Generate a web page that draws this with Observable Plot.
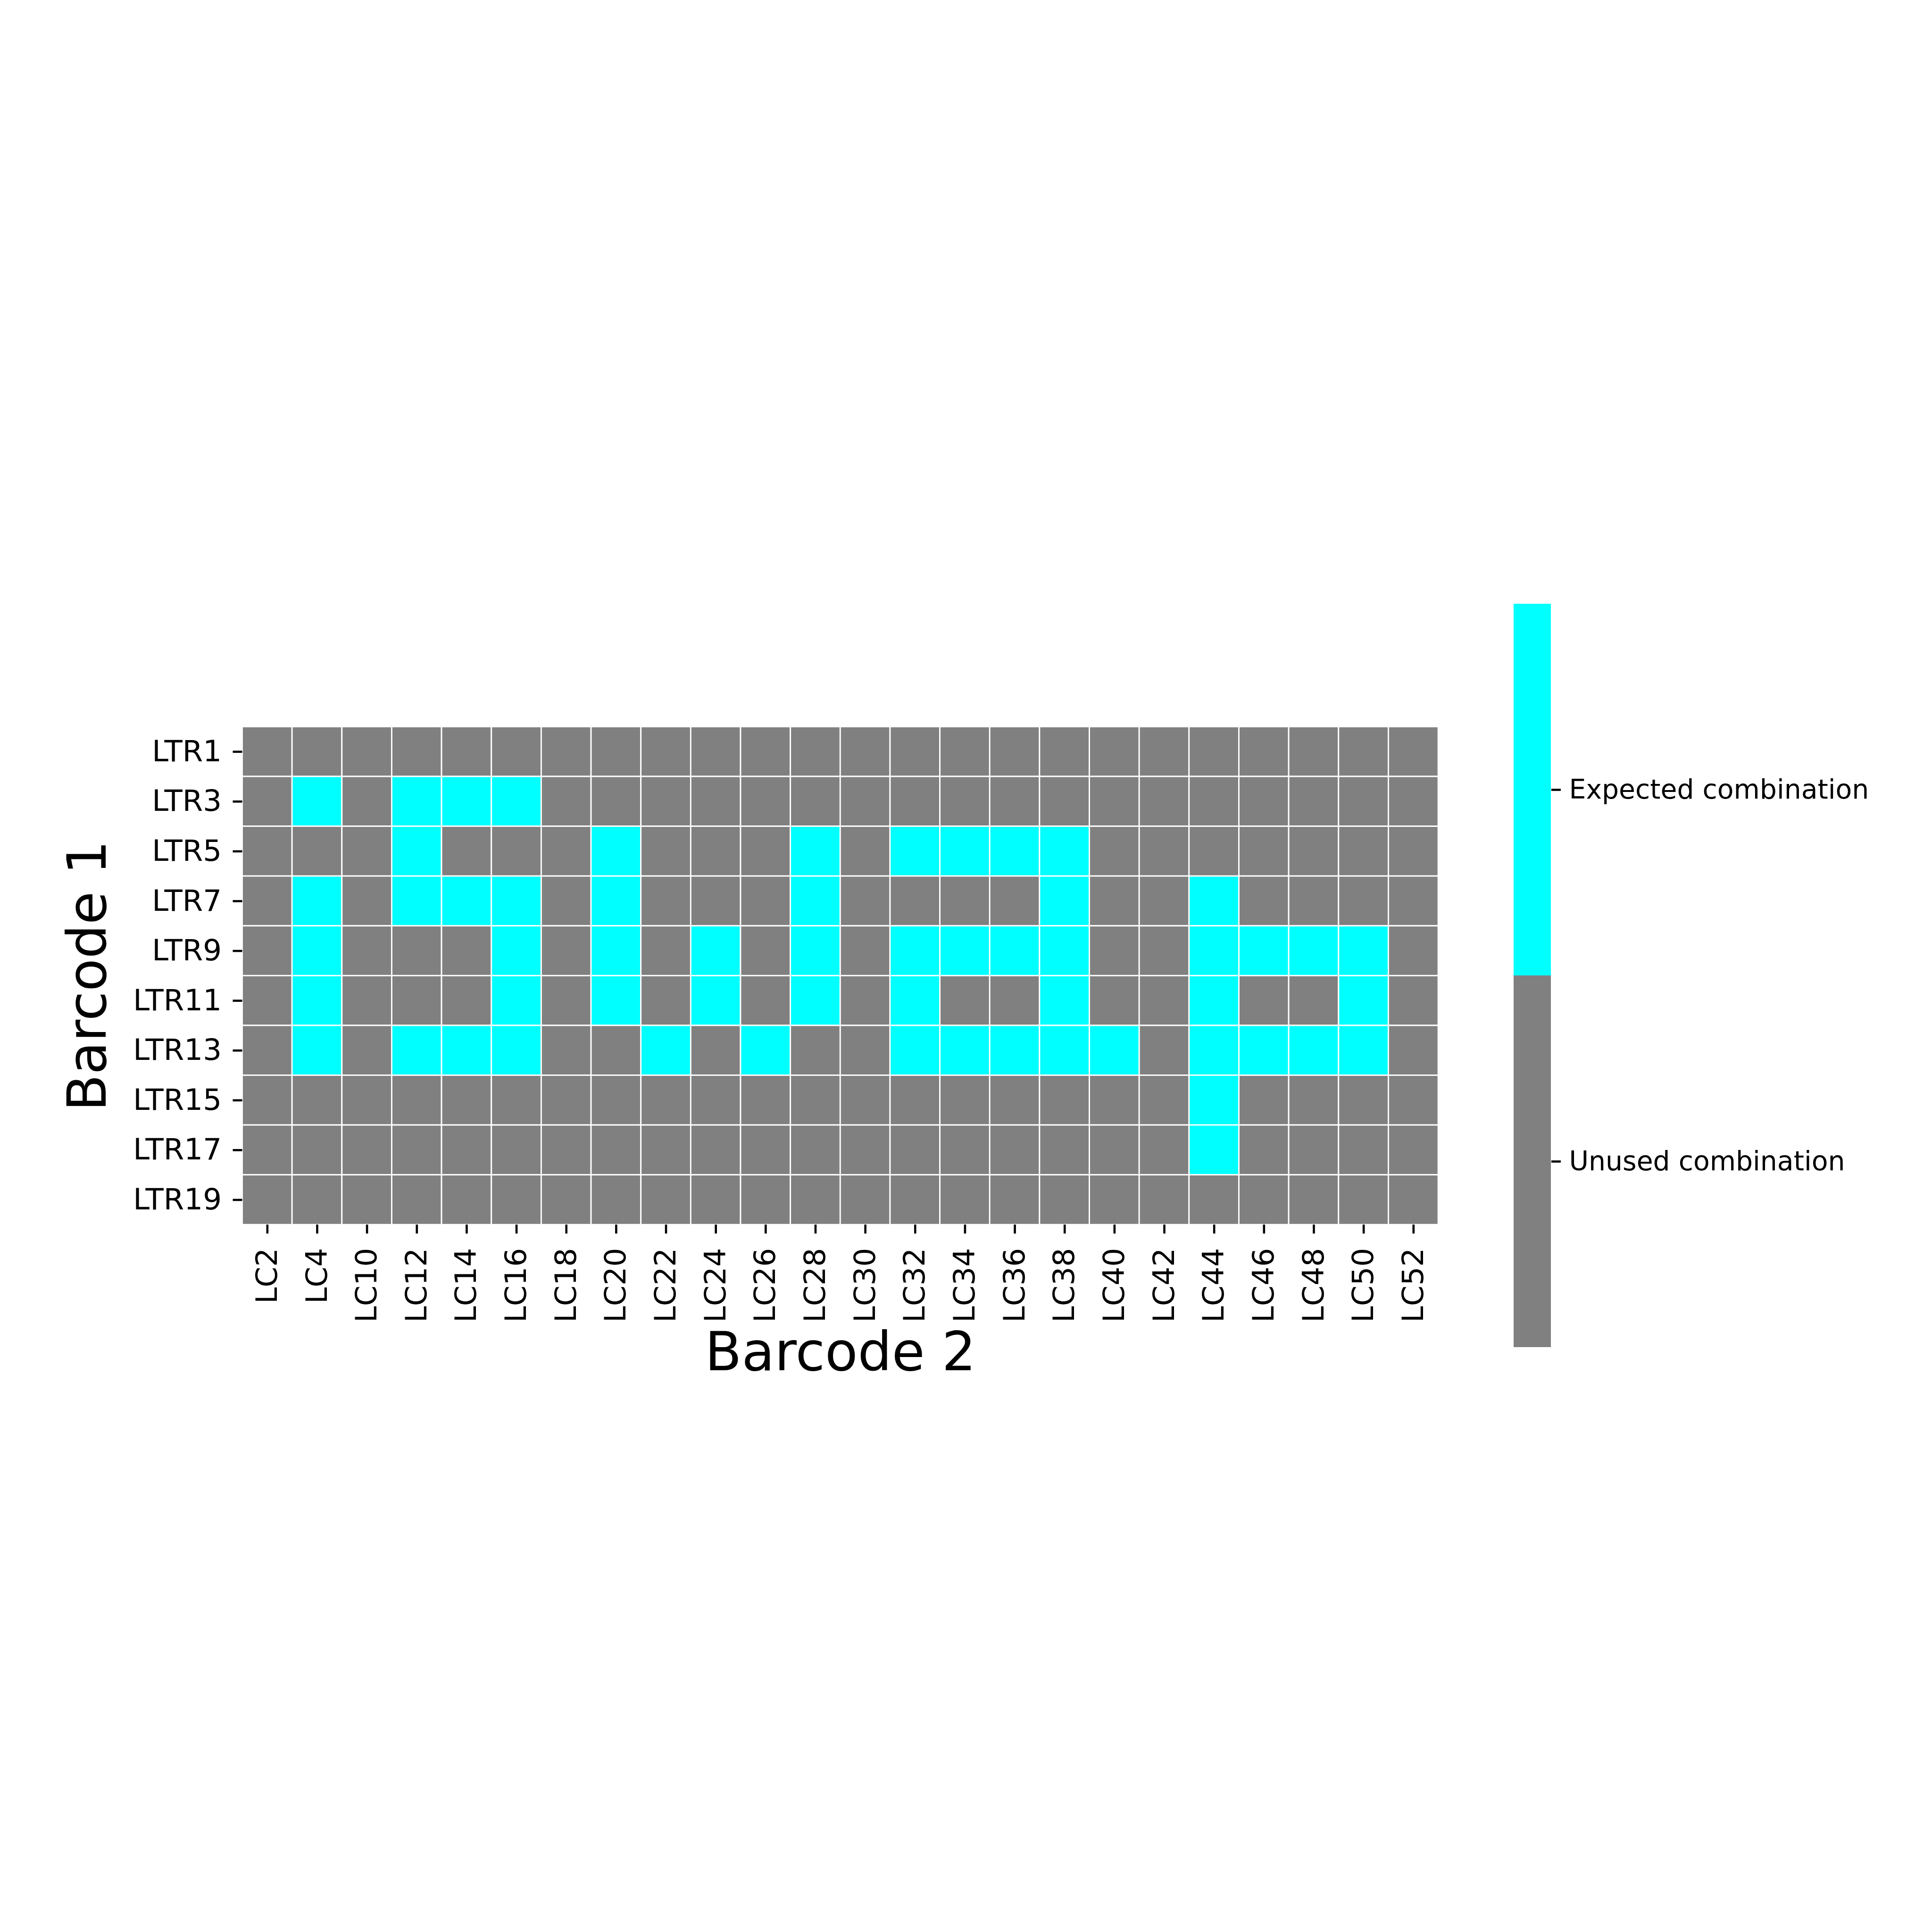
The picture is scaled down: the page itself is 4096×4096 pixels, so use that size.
<!DOCTYPE html>
<html>
<head>
<meta charset="utf-8">
<script src="https://cdn.jsdelivr.net/npm/d3@7"></script>
<script src="https://cdn.jsdelivr.net/npm/@observablehq/plot@0.6"></script>
<style>
  html, body { margin: 0; padding: 0; background: white; }
  #wrap { position: relative; width: 4096px; height: 4096px; }
  #wrap svg { position: absolute; left: 0; top: 0; }
</style>
</head>
<body>
<div id="wrap"></div>
<script>
// Rows (Barcode 1) and columns (Barcode 2)
const rows = ["LTR1", "LTR3", "LTR5", "LTR7", "LTR9", "LTR11", "LTR13", "LTR15", "LTR17", "LTR19"];
const cols = ["LC2", "LC4", "LC10", "LC12", "LC14", "LC16", "LC18", "LC20", "LC22", "LC24", "LC26", "LC28",
              "LC30", "LC32", "LC34", "LC36", "LC38", "LC40", "LC42", "LC44", "LC46", "LC48", "LC50", "LC52"];

// Expected combinations per row (aligned with rows)
const expectedByRow = [
  [],
  ["LC4", "LC12", "LC14", "LC16"],
  ["LC12", "LC20", "LC28", "LC32", "LC34", "LC36", "LC38"],
  ["LC4", "LC12", "LC14", "LC16", "LC20", "LC28", "LC38", "LC44"],
  ["LC4", "LC16", "LC20", "LC24", "LC28", "LC32", "LC34", "LC36", "LC38", "LC44", "LC46", "LC48", "LC50"],
  ["LC4", "LC16", "LC20", "LC24", "LC28", "LC32", "LC38", "LC44", "LC50"],
  ["LC4", "LC12", "LC14", "LC16", "LC22", "LC26", "LC32", "LC34", "LC36", "LC38", "LC40", "LC44", "LC46", "LC48", "LC50"],
  ["LC44"],
  ["LC44"],
  []
];

const categories = ["Expected combination", "Unused combination"];
const categoryColors = ["#00ffff", "#808080"];

const cells = [];
rows.forEach((r, i) => {
  cols.forEach(c => {
    cells.push({row: r, col: c, status: expectedByRow[i].includes(c) ? categories[0] : categories[1]});
  });
});

const W = 4096, H = 4096;
const font = "DejaVu Sans";

const main = Plot.plot({
  width: W,
  height: H,
  marginLeft: 513.5,
  marginRight: 1046.9,
  marginTop: 1540.5,
  marginBottom: 1499.8,
  style: {fontFamily: font, background: "white", overflow: "visible"},
  x: {type: "band", domain: cols, padding: 0, round: false},
  y: {type: "band", domain: rows, padding: 0, round: false},
  color: {domain: categories, range: categoryColors},
  marks: [
    Plot.cell(cells, {x: "col", y: "row", fill: "status", stroke: "white", strokeWidth: 2.84}),
    Plot.axisX({anchor: "bottom", tickSize: 19, tickPadding: 30, tickRotate: -90, fontSize: 62.6, strokeWidth: 4.6, label: null}),
    Plot.axisY({anchor: "left", tickSize: 20, tickPadding: 24, fontSize: 62.6, strokeWidth: 4.6, label: null}),
    Plot.text(["Barcode 2"], {text: d => d, frameAnchor: "bottom", textAnchor: "middle", lineAnchor: "middle", dy: 271.8, fontSize: 113.7, fill: "black"}),
    Plot.text(["Barcode 1"], {text: d => d, frameAnchor: "left", textAnchor: "middle", lineAnchor: "middle", dx: -326.8, rotate: -90, fontSize: 113.7, fill: "black"})
  ]
});

const bar = Plot.plot({
  width: W,
  height: H,
  marginLeft: 3209,
  marginRight: 808,
  marginTop: 1280,
  marginBottom: 1240,
  style: {fontFamily: font, background: "none", overflow: "visible"},
  y: {type: "band", domain: categories, padding: 0, round: false},
  color: {domain: categories, range: categoryColors},
  marks: [
    Plot.cell(categories, {y: d => d, fill: d => d}),
    Plot.axisY({anchor: "right", tickSize: 20, tickPadding: 18, fontSize: 56.8, strokeWidth: 4.6, label: null})
  ]
});

const wrap = document.getElementById("wrap");
wrap.appendChild(main);
wrap.appendChild(bar);
</script>
</body>
</html>
